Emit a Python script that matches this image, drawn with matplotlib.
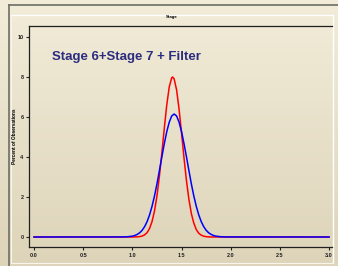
import numpy as np
import matplotlib
matplotlib.use('Agg')
import matplotlib.pyplot as plt

plt.rcParams['font.family'] = ['Liberation Sans', 'DejaVu Sans']

# red curve (Stage 6 + Stage 7)
red_x = [0.0, 1.0, 1.05, 1.075, 1.1, 1.125, 1.15, 1.175, 1.2, 1.225, 1.25, 1.275,
         1.3, 1.325, 1.35, 1.375, 1.4, 1.41, 1.425, 1.45, 1.475, 1.5, 1.525,
         1.55, 1.575, 1.6, 1.625, 1.65, 1.675, 1.7, 1.725, 1.75, 1.775, 1.8, 3.0]
red_y = [0.0, 0.0, 0.008, 0.021, 0.048, 0.107, 0.22, 0.425, 0.77, 1.30, 2.05, 3.04,
         4.21, 5.45, 6.61, 7.50, 7.96, 8.00, 7.90, 7.35, 6.39, 5.20, 3.96,
         2.82, 1.88, 1.17, 0.69, 0.37, 0.19, 0.092, 0.041, 0.017, 0.007, 0.0, 0.0]

# blue curve (Filter)
blue_x = [0.0, 0.9, 0.95, 1.0, 1.025, 1.05, 1.075, 1.1, 1.125, 1.15, 1.175, 1.2,
          1.225, 1.25, 1.275, 1.3, 1.325, 1.35, 1.375, 1.4, 1.425, 1.45, 1.475,
          1.5, 1.525, 1.55, 1.575, 1.6, 1.625, 1.65, 1.675, 1.7, 1.725, 1.75,
          1.775, 1.8, 1.825, 1.85, 1.9, 1.95, 3.0]
blue_y = [0.0, 0.003, 0.013, 0.043, 0.076, 0.13, 0.213, 0.339, 0.521, 0.772, 1.107, 1.534,
          2.05, 2.65, 3.32, 4.01, 4.67, 5.27, 5.74, 6.05, 6.15, 6.05, 5.74,
          5.27, 4.67, 4.01, 3.32, 2.65, 2.05, 1.534, 1.107, 0.772, 0.521, 0.339,
          0.213, 0.13, 0.076, 0.043, 0.013, 0.003, 0.0]

xticks = [0.0, 0.5, 1.0, 1.5, 2.0, 2.5, 3.0]
xlabels = ['0.0', '0.5', '1.0', '1.5', '2.0', '2.5', '3.0']
yticks = [0, 2, 4, 6, 8, 10]
ylabels = ['0', '2', '4', '6', '8', '10']

W, H = 338, 266
fig = plt.figure(figsize=(W / 100, H / 100), dpi=100)

# background gradient + frames, drawn in pixel coords
bg = fig.add_axes([0, 0, 1, 1], zorder=-1)
top = np.array([242, 236, 217]) / 255
bot = np.array([221, 212, 185]) / 255
t = np.linspace(0, 1, 256)[:, None, None]
grad = top * (1 - t) + bot * t
grad = np.repeat(grad, 2, axis=1)
bg.imshow(grad, aspect='auto', extent=[0, W, H, 0])
bg.plot([9, W], [5, 5], color='#6e6e66', lw=1.2)
bg.plot([9, 9], [5, H], color='#6e6e66', lw=1.2)
bg.plot([11, 333, 333], [15, 15, 263], color='white', lw=1.0)
bg.plot([11, 11, 333], [15, 263, 263], color='#f8f5ec', lw=0.8)
bg.set_xlim(0, W)
bg.set_ylim(H, 0)
bg.axis('off')

ax = fig.add_axes([29 / W, 19 / H, 303 / W, 221 / H])
ax.set_facecolor('none')
ax.plot(red_x, red_y, color='#ff0000', lw=1.1)
ax.plot(blue_x, blue_y, color='#0000ff', lw=1.1)

ax.set_xlim(-0.051, 3.03)
ax.set_ylim(-0.5, 10.55)
ax.set_xticks(xticks)
ax.set_xticklabels(xlabels, fontsize=4, fontweight='bold')
ax.set_yticks(yticks)
ax.set_yticklabels(ylabels, fontsize=4, fontweight='bold')
ax.tick_params(length=2.5, width=0.8, pad=1.5, colors='#202020')
ax.spines['right'].set_visible(False)
for s in ['top', 'left', 'bottom']:
    ax.spines[s].set_linewidth(0.9)
    ax.spines[s].set_color('#202020')

ax.text(0.18, 9.0, 'Stage 6+Stage 7 + Filter', fontsize=9.5, fontweight='bold',
        color='#2d2d80', va='center', ha='left')

fig.text(14 / W, (H - 136) / H, 'Percent of Observations', rotation=90,
         fontsize=3.4, fontweight='bold', ha='center', va='center')
fig.text(172 / W, (H - 17) / H, 'Stage', fontsize=3.2, fontweight='bold',
         ha='center', va='center')

fig.savefig('out.png', dpi=100)
